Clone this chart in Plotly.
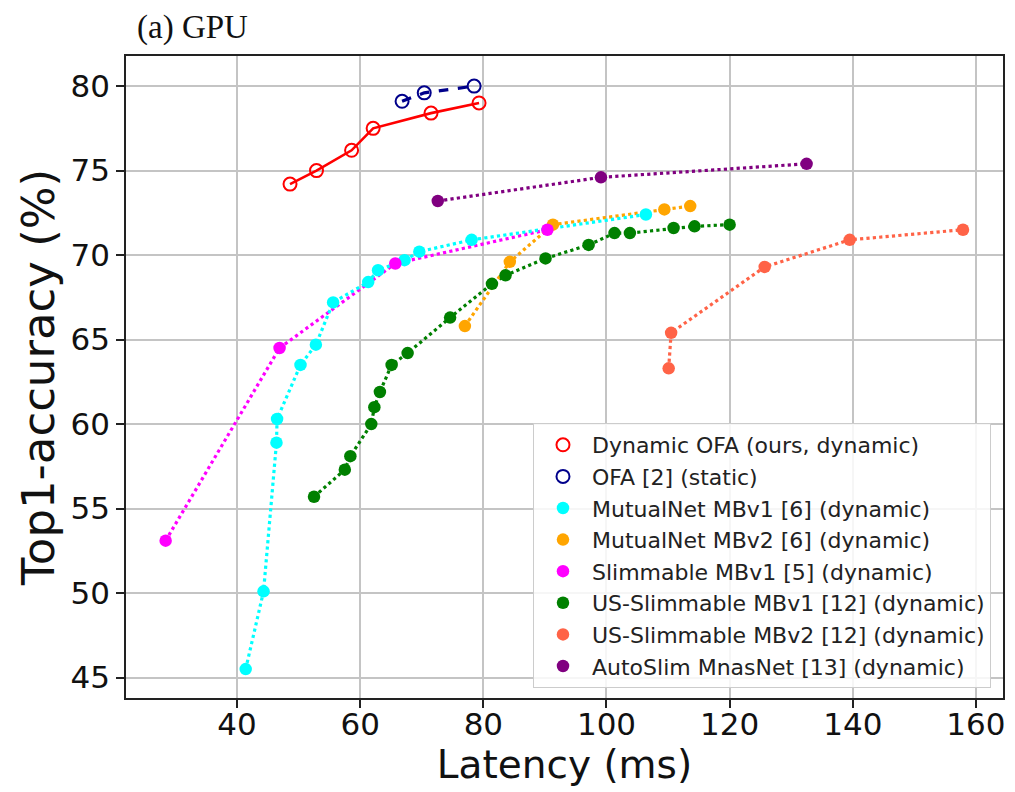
import plotly.graph_objects as go

# Latency (ms) / Top-1 accuracy (%) per model family
ofa_dyn_lat = [48.6, 52.9, 58.6, 62.1, 71.5, 79.3]
ofa_dyn_acc = [74.2, 75.0, 76.2, 77.5, 78.4, 79.0]

ofa_lat = [66.8, 70.4, 78.5]
ofa_acc = [79.1, 79.6, 80.0]

mutual_v1_lat = [41.4, 44.3, 46.4, 46.5, 50.3, 52.8, 55.6, 61.3, 62.9, 67.2, 69.6, 78.1, 106.4]
mutual_v1_acc = [45.5, 50.1, 58.9, 60.3, 63.5, 64.7, 67.2, 68.4, 69.1, 69.7, 70.2, 70.9, 72.4]

mutual_v2_lat = [77.0, 84.3, 91.3, 109.4, 113.6]
mutual_v2_acc = [65.8, 69.6, 71.8, 72.7, 72.9]

slim_v1_lat = [28.4, 46.9, 65.7, 90.4]
slim_v1_acc = [53.1, 64.5, 69.5, 71.5]

us_v1_lat = [52.5, 57.5, 58.4, 61.8, 62.3, 63.2, 65.1, 67.7, 74.6, 81.4, 83.6,
             90.1, 97.1, 101.3, 103.8, 110.9, 114.3, 120.0]
us_v1_acc = [55.7, 57.3, 58.1, 60.0, 61.0, 61.9, 63.5, 64.2, 66.3, 68.3, 68.8,
             69.8, 70.6, 71.3, 71.3, 71.6, 71.7, 71.8]

us_v2_lat = [110.1, 110.5, 125.7, 139.5, 157.9]
us_v2_acc = [63.3, 65.4, 69.3, 70.9, 71.5]

autoslim_lat = [72.6, 99.1, 132.5]
autoslim_acc = [73.2, 74.6, 75.4]

x_ticks = [40, 60, 80, 100, 120, 140, 160]
y_ticks = [45, 50, 55, 60, 65, 70, 75, 80]

# (name, x, y, color, dash, open marker)
series = [
    ("Dynamic OFA (ours, dynamic)", ofa_dyn_lat, ofa_dyn_acc, "#ff0000", "solid", True),
    ("OFA [2] (static)", ofa_lat, ofa_acc, "#00008b", "dash", True),
    ("MutualNet MBv1 [6] (dynamic)", mutual_v1_lat, mutual_v1_acc, "#00ffff", "dot", False),
    ("MutualNet MBv2 [6] (dynamic)", mutual_v2_lat, mutual_v2_acc, "#ffa500", "dot", False),
    ("Slimmable MBv1 [5] (dynamic)", slim_v1_lat, slim_v1_acc, "#ff00ff", "dot", False),
    ("US-Slimmable MBv1 [12] (dynamic)", us_v1_lat, us_v1_acc, "#008000", "dot", False),
    ("US-Slimmable MBv2 [12] (dynamic)", us_v2_lat, us_v2_acc, "#ff6347", "dot", False),
    ("AutoSlim MnasNet [13] (dynamic)", autoslim_lat, autoslim_acc, "#800080", "dot", False),
]

fig = go.Figure()

# connecting lines first (no legend entry), drawn beneath all markers
for name, xs, ys, color, dash, hollow in reversed(series):
    fig.add_trace(go.Scatter(
        x=xs, y=ys, mode="lines", showlegend=False, hoverinfo="skip",
        line=dict(color=color, width=2.6 if dash == "solid" else 3.2, dash=dash),
        legendgroup=name,
    ))

# markers carry the legend entries
for name, xs, ys, color, dash, hollow in series:
    if hollow:
        marker = dict(symbol="circle-open", size=13, color=color, line=dict(width=2, color=color))
    else:
        marker = dict(symbol="circle", size=12.5, color=color)
    fig.add_trace(go.Scatter(
        x=xs, y=ys, mode="markers", name=name, marker=marker, legendgroup=name,
    ))

axis_common = dict(
    showgrid=True, gridcolor="#c4c4c4", gridwidth=2,
    showline=True, linecolor="#222222", linewidth=1.8, mirror=True,
    ticks="outside", ticklen=8, tickwidth=1.6, tickcolor="#222222",
    zeroline=False,
    tickfont=dict(family="DejaVu Sans", size=31, color="#111111"),
)

fig.update_xaxes(
    range=[21.96, 164.4], tickvals=x_ticks, ticktext=[str(v) for v in x_ticks],
    ticklabelstandoff=-10,
    title=dict(text="Latency (ms)", font=dict(family="DejaVu Sans", size=39, color="#111111"), standoff=2),
    **axis_common,
)
fig.update_yaxes(
    range=[43.79, 81.78], tickvals=y_ticks, ticktext=[str(v) for v in y_ticks],
    title=dict(text="Top1-accuracy (%)", font=dict(family="DejaVu Sans", size=45, color="#111111"), standoff=2),
    **axis_common,
)

fig.update_layout(
    width=1015, height=792,
    margin=dict(l=126, r=10, t=56, b=94),
    paper_bgcolor="white", plot_bgcolor="white",
    showlegend=True,
    legend=dict(
        x=0.9863, y=0.0156, xanchor="right", yanchor="bottom",
        bgcolor="rgba(255,255,255,0.85)", bordercolor="#cccccc", borderwidth=1,
        font=dict(family="DejaVu Sans", size=22, color="#222222"),
        tracegroupgap=0, itemsizing="trace", itemwidth=48,
    ),
    annotations=[dict(
        text="(a) GPU", xref="paper", yref="paper", x=0.0102, y=1.045,
        xanchor="left", yanchor="middle", showarrow=False,
        font=dict(family="Liberation Serif", size=33, color="#111111"),
    )],
)

fig.write_html("out.html")
